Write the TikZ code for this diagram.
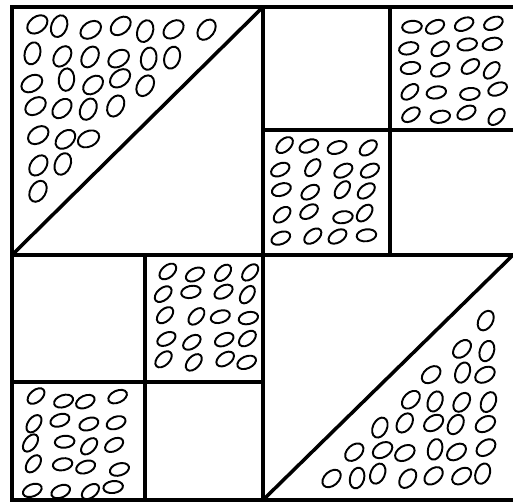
\documentclass[tikz,border=0pt]{standalone}
\usetikzlibrary{calc}

% a small square full of ovals, given its top left corner
\newcommand{\ovalsq}[2]{%
  \foreach \i in {0,...,3}
    \foreach \j in {0,...,4} {
      \pgfmathsetmacro{\cx}{#1+21+28*\i+4*rand}
      \pgfmathsetmacro{\cy}{#2+17+22.5*\j+3*rand}
      \pgfmathsetmacro{\rot}{30+25*rand}
      \draw[oval,shift={(\cx,\cy)},rotate=\rot] (0,0) ellipse [x radius=5.6pt,y radius=3.4pt];
    }}

\begin{document}
\begin{tikzpicture}[
    x=0.02cm,y=-0.02cm,
    frame/.style={line width=2.6pt,line join=miter},
    seam/.style={line width=2pt},
    oval/.style={line width=1.1pt}
  ]
  \pgfmathsetseed{31}
  \useasboundingbox[fill=white] (0,0) rectangle (513,502);
  % corners of the block
  \coordinate (tl) at (12,7); \coordinate (br) at (515,500);
  \coordinate (mt) at (263,7); \coordinate (mb) at (263,500);
  \coordinate (ml) at (12,255); \coordinate (mr) at (513,255);

  % upper left triangle
  \foreach \i in {0,...,7}
    \foreach \j in {0,...,7} {
      \pgfmathsetmacro{\cx}{35+28*\i+4*rand}
      \pgfmathsetmacro{\cy}{28+27*\j+4*rand}
      \pgfmathsetmacro{\rot}{55+30*rand}
      \pgfmathtruncatemacro{\inside}{((\cx-12)/251+(\cy-7)/248)<0.92 ? 1 : 0}
      \ifnum\inside=1
        \draw[oval,shift={(\cx,\cy)},rotate=\rot] (0,0) ellipse [x radius=6.4pt,y radius=4.4pt];
      \fi
    }
  % lower right triangle
  \foreach \i in {0,...,7}
    \foreach \j in {0,...,8} {
      \pgfmathsetmacro{\cx}{303+26*\i+4*rand}
      \pgfmathsetmacro{\cy}{272+25.5*\j+3*rand}
      \pgfmathsetmacro{\rot}{55+25*rand}
      \pgfmathtruncatemacro{\inside}{((\cx-263)/250+(\cy-255)/245)>1.11 ? 1 : 0}
      \ifnum\inside=1
        \draw[oval,shift={(\cx,\cy)},rotate=\rot] (0,0) ellipse [x radius=6pt,y radius=4pt];
      \fi
    }
  % the four small printed squares
  \ovalsq{390}{7}
  \ovalsq{263}{130}
  \ovalsq{145}{255}
  \ovalsq{12}{382}

  % seams
  \draw[frame] (tl) rectangle (br);
  \draw[seam] (mt) -- (mb) (ml) -- (br |- ml);
  \draw[seam] (ml) -- (mt) (mb) -- (mr);
  \draw[seam] (390,7) -- (390,255) (263,130) -- (515,130);
  \draw[seam] (145,255) -- (145,500) (12,382) -- (263,382);
\end{tikzpicture}
\end{document}
